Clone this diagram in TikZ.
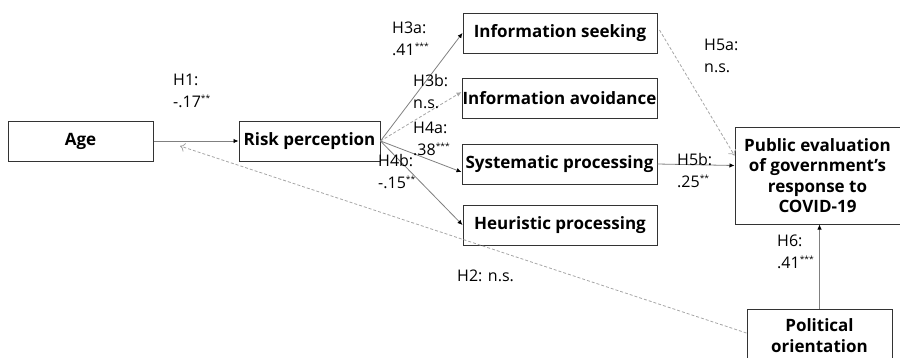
\documentclass[tikz,border=0pt]{standalone}
\usepackage{fontspec}
\setmainfont{Open Sans}
\usetikzlibrary{arrows.meta,calc}
\newcommand\sigstars[1]{\raisebox{5.5pt}{\fontsize{8.5}{8.5}\selectfont #1}}
\begin{document}
\begin{tikzpicture}[x=1pt,y=-1pt,
 box/.style={draw=black!80,line width=1pt,inner sep=0pt,font=\bfseries\fontsize{17}{20.5}\selectfont,align=center},
 lab/.style={font=\fontsize{16}{21.5}\selectfont,align=left,anchor=base west,inner sep=0pt},
 sol/.style={draw=black!50,line width=0.8pt,-{Latex[length=5pt,width=4.5pt,black]}},
 dsh/.style={draw=black!35,dash pattern=on 3pt off 2pt,line width=0.8pt,-{To[length=5pt,width=9pt]}}]
\useasboundingbox (0,0) rectangle (900,357);
\clip (0,0) rectangle (900,357);
% boxes
\node[box,minimum width=145pt,minimum height=40pt] (age) at (80.5,141) {Age};
\node[box,minimum width=141pt,minimum height=40pt] (risk) at (309.5,141) {Risk perception};
\node[box,minimum width=194pt,minimum height=40pt] (seek) at (560,33) {Information seeking};
\node[box,minimum width=195pt,minimum height=40pt] (avoid) at (559.5,98) {Information avoidance};
\node[box,minimum width=195pt,minimum height=40pt] (sys) at (559.5,164) {Systematic processing};
\node[box,minimum width=194pt,minimum height=40pt] (heur) at (560,225) {Heuristic processing};
\node[box,minimum width=165pt,minimum height=97pt] (pub) at (817.5,175.5) {Public evaluation\\of government's\\response to\\COVID-19};
\node[box,minimum width=145pt,minimum height=52pt,anchor=north] (pol) at (819.5,309) {Political\\orientation};
\coordinate (h2end) at (180,146);
% connectors
\draw[sol] (age.east) -- (risk.west);
\draw[sol] (risk.east) -- (seek.west);
\draw[dsh,-{Latex[length=5pt,width=4.5pt]}] (risk.east) -- ($(avoid.west)+(0,-6)$);
\draw[sol] (risk.east) -- ($(sys.west)+(0,8)$);
\draw[sol] (risk.east) -- (heur.west);
\draw[dsh] ($(seek.east)+(2,-3)$) -- ($(pub.west)+(0,-20)$);
\draw[sol] (sys.east) -- ($(pub.west)+(0,-10)$);
\draw[sol] (pol.north) -- (pol.north |- pub.south);
\draw[dsh] ($(pol.north west)+(0,24)$) -- (h2end);
% labels
\node[lab] (l1) at (173,107) {H1:\\-.17\sigstars{**}};
\node[lab] (l3a) at (392,55) {H3a:\\.41\sigstars{***}};
\node[lab] (l3b) at (413,108) {H3b:\\n.s.};
\node[lab] (l4a) at (413,155) {H4a:\\.38\sigstars{***}};
\node[lab] (l4b) at (378,188) {H4b:\\-.15\sigstars{**}};
\node[lab] (l5a) at (704,72) {H5a:\\n.s.};
\node[lab] (l5b) at (677,187) {H5b:\\.25\sigstars{**}};
\node[lab] (l6) at (777,268) {H6:\\.41\sigstars{***}};
\node[lab] (l2) at (457,281) {H2: n.s.};
\end{tikzpicture}
\end{document}
